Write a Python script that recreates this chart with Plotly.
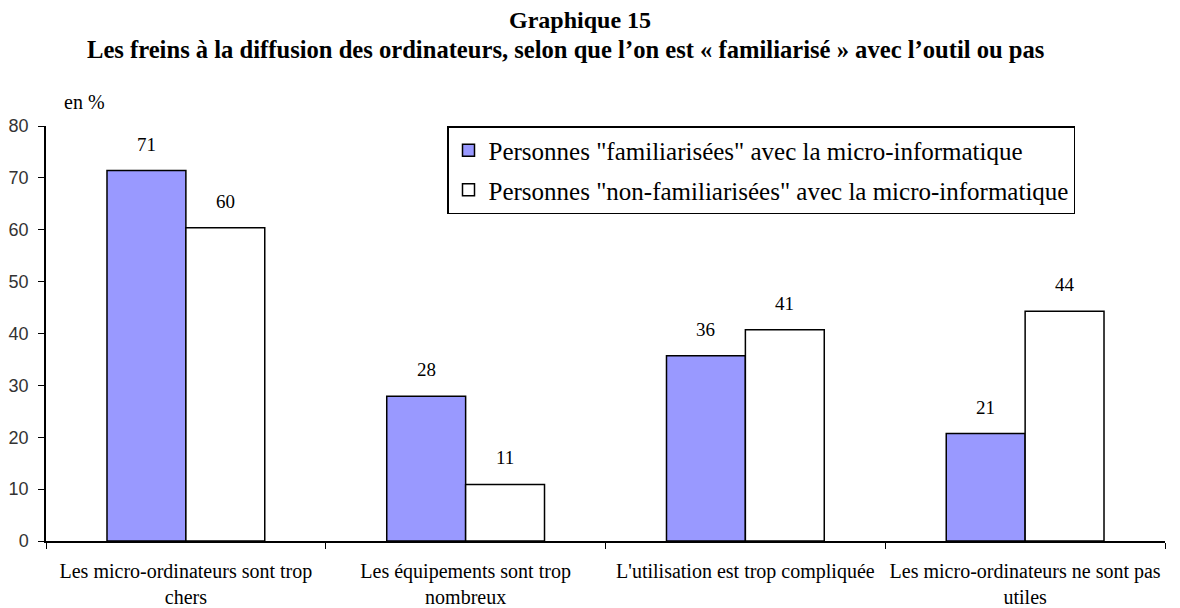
import plotly.graph_objects as go

categories = [
    "Les micro-ordinateurs sont trop<br>chers",
    "Les équipements sont trop<br>nombreux",
    "L'utilisation est trop compliquée",
    "Les micro-ordinateurs ne sont pas<br>utiles",
]
familiarisees = [71.4, 27.9, 35.7, 20.7]
non_familiarisees = [60.4, 10.9, 40.7, 44.3]
series_names = [
    'Personnes "familiarisées" avec la micro-informatique',
    'Personnes "non-familiarisées" avec la micro-informatique',
]
y_ticks = [0, 10, 20, 30, 40, 50, 60, 70, 80]

FONT = "Times New Roman, Liberation Serif, Tinos, DejaVu Serif, serif"
# page body has an 8px margin: the figure is drawn from (8, 8)
OFF = 8
W, H = 1180 - OFF, 608 - OFF
L, R, T, B = 46 - OFF, 15, 126 - OFF, 67
PW = W - L - R
PH = H - T - B
BAR_PX = PW / len(categories) * (1 - 0.436) / 2


def py(screen_y):
    return 1 + (T + OFF - screen_y) / PH


def px(screen_x):
    return (screen_x - OFF - L) / PW


fig = go.Figure()
fig.add_trace(go.Bar(
    x=categories, y=familiarisees, name=series_names[0], legendgroup="a",
    marker=dict(color="#9999FF", line=dict(color="black", width=1.5)),
))
fig.add_trace(go.Bar(
    x=categories, y=non_familiarisees, name=series_names[1], legendgroup="b",
    marker=dict(color="white", line=dict(color="black", width=1.5)),
))

for vals, sign in ((familiarisees, -1), (non_familiarisees, 1)):
    for c, v in zip(categories, vals):
        fig.add_annotation(x=c, y=v, xref="x", yref="y", text=f"{v:.0f}",
                           showarrow=False, xanchor="center", yanchor="bottom",
                           xshift=sign * BAR_PX / 2, yshift=14,
                           font=dict(family=FONT, size=19, color="black"))

fig.update_layout(
    width=W, height=H,
    margin=dict(l=L, r=R, t=T, b=B, autoexpand=False),
    plot_bgcolor="white", paper_bgcolor="white",
    barmode="group", bargap=0.436, bargroupgap=0,
    font=dict(family=FONT, size=19, color="black"),
    showlegend=True,
    legend=dict(
        x=px(447), y=1.0, xanchor="left", yanchor="top",
        bordercolor="black", borderwidth=1.5, bgcolor="white",
        font=dict(family=FONT, size=25, color="black"),
        traceorder="grouped", tracegroupgap=4, itemwidth=30,
    ),
    xaxis=dict(
        showline=True, linecolor="black", linewidth=1.5,
        ticks="outside", tickson="boundaries", ticklen=6, tickcolor="black",
        tickfont=dict(family=FONT, size=20, color="black"), tickangle=0,
        ticklabelstandoff=11, automargin=False,
        showgrid=False,
    ),
    yaxis=dict(
        range=[0, 80], tickvals=y_ticks, showline=True, linecolor="black", linewidth=1.5,
        ticks="outside", ticklen=6, tickcolor="black", showgrid=False, zeroline=False,
        tickfont=dict(family="Liberation Sans, Arial, sans-serif", size=18, color="#333"),
        ticklabelstandoff=6, automargin=False,
    ),
)

fig.add_annotation(text="<b>Graphique 15</b>", xref="paper", yref="paper",
                   x=px(580), y=py(20),
                   xanchor="center", yanchor="middle", showarrow=False,
                   font=dict(family=FONT, size=24, color="black"))
fig.add_annotation(text="<b>Les freins à la diffusion des ordinateurs, selon que l’on est « familiarisé » avec l’outil ou pas</b>",
                   xref="paper", yref="paper",
                   x=px(565), y=py(49),
                   xanchor="center", yanchor="middle", showarrow=False,
                   font=dict(family=FONT, size=24.6, color="black"))
fig.add_annotation(text="en %", xref="paper", yref="paper",
                   x=px(62), y=py(102),
                   xanchor="left", yanchor="middle", showarrow=False,
                   font=dict(family=FONT, size=20, color="black"))

fig.write_html("out.html")
